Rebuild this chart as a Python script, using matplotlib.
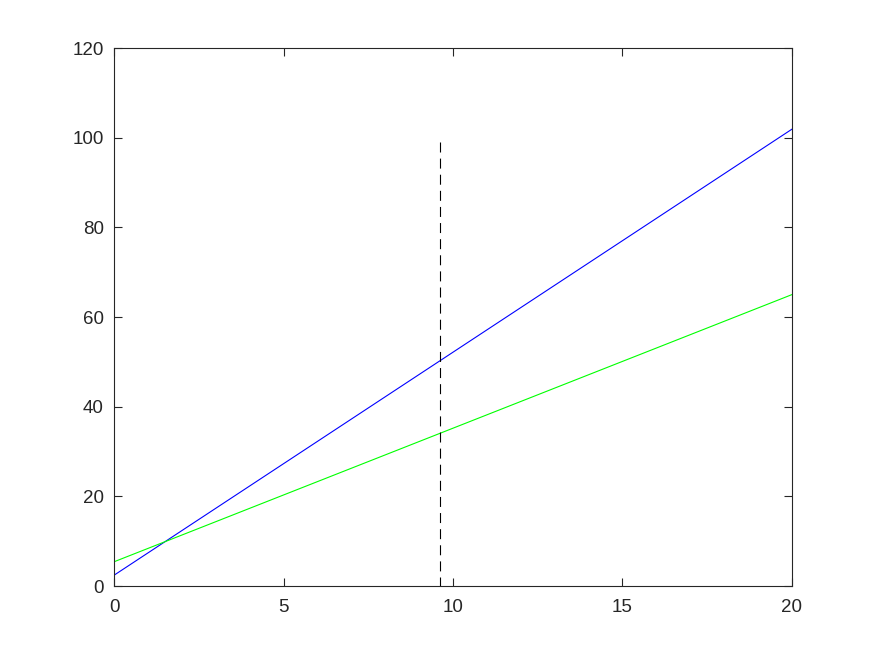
import matplotlib
matplotlib.use("Agg")
import matplotlib.pyplot as plt

# data
x_ends = [0, 20]
blue_y = [2.4, 101.9]
green_y = [5.4, 65.0]
cut_x = [9.61, 9.61]
cut_y = [99, 0]

plt.rcParams['font.family'] = ['Liberation Sans', 'DejaVu Sans']

fig = plt.figure(figsize=(8.75, 6.56), dpi=100)
ax = fig.add_axes([0.1303, 0.1067, 0.7748, 0.8201])

ax.plot(x_ends, blue_y, color='#0000ff', lw=0.8)
ax.plot(x_ends, green_y, color='#00ff00', lw=0.8)
ax.plot(cut_x, cut_y, color='black', lw=0.8, dashes=(9, 5.5))

ax.set_xlim(0, 20)
ax.set_ylim(0, 120)
ax.set_xticks([0, 5, 10, 15, 20])
ax.set_yticks(range(0, 121, 20))

dark = '#262626'
for s in ax.spines.values():
    s.set_color(dark)
    s.set_linewidth(0.8)
ax.tick_params(direction='in', top=True, right=True, length=6, width=0.8,
               colors=dark, labelsize=13.5)
ax.tick_params(axis='y', pad=7.3)
ax.tick_params(axis='x', pad=9.5)

fig.savefig('out.png', dpi=100, facecolor='white')
